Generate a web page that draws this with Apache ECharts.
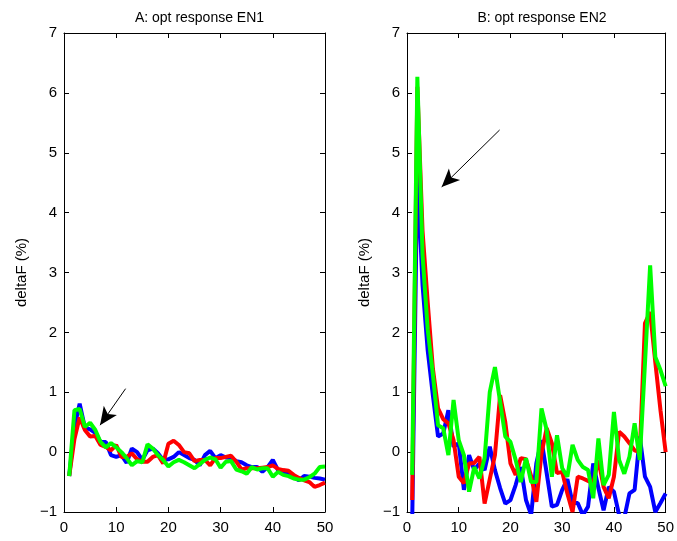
<!DOCTYPE html>
<html>
<head>
<meta charset="utf-8">
<script src="https://cdn.jsdelivr.net/npm/echarts@6/dist/echarts.min.js"></script>
<style>
  html, body { margin: 0; padding: 0; background: #fff; }
  #chart { width: 677px; height: 541px; }
</style>
</head>
<body>
<div id="chart"></div>
<script>
// sample index (x axis)
const steps = [1, 2, 3, 4, 5, 6, 7, 8, 9, 10, 11, 12, 13, 14, 15, 16, 17, 18, 19, 20,
  21, 22, 23, 24, 25, 26, 27, 28, 29, 30, 31, 32, 33, 34, 35, 36, 37, 38, 39, 40,
  41, 42, 43, 44, 45, 46, 47, 48, 49, 50];

// A: opt response EN1
const blueA = [-0.40, 0.42, 0.81, 0.41, 0.38, 0.32, 0.17, 0.17, -0.05, -0.08,
  -0.05, -0.18, 0.06, 0.00, -0.13, 0.03, 0.06, -0.02, -0.13, -0.12,
  -0.08, 0.00, -0.05, -0.10, -0.13, -0.22, -0.05, 0.02, -0.10, -0.05,
  -0.09, -0.10, -0.15, -0.17, -0.22, -0.25, -0.25, -0.33, -0.25, -0.13,
  -0.30, -0.36, -0.35, -0.42, -0.47, -0.40, -0.41, -0.43, -0.44, -0.46];
const redA = [-0.40, 0.22, 0.58, 0.37, 0.26, 0.27, 0.12, 0.09, 0.03, 0.12,
  -0.08, -0.08, -0.02, -0.12, -0.16, -0.16, -0.08, -0.05, -0.19, 0.14,
  0.19, 0.12, 0.00, -0.02, -0.15, -0.13, -0.13, -0.22, -0.10, -0.10,
  -0.08, -0.06, -0.16, -0.29, -0.27, -0.27, -0.27, -0.26, -0.25, -0.22,
  -0.28, -0.30, -0.31, -0.38, -0.43, -0.47, -0.50, -0.58, -0.55, -0.51];
const greenA = [-0.40, 0.70, 0.72, 0.42, 0.49, 0.37, 0.17, 0.08, 0.15, 0.08,
  0.00, -0.10, -0.22, -0.15, -0.17, 0.13, 0.06, -0.05, -0.13, -0.24,
  -0.17, -0.13, -0.17, -0.22, -0.27, -0.20, -0.13, -0.09, -0.12, -0.26,
  -0.16, -0.15, -0.29, -0.32, -0.36, -0.25, -0.29, -0.27, -0.27, -0.41,
  -0.33, -0.38, -0.40, -0.44, -0.46, -0.46, -0.42, -0.36, -0.25, -0.24];

// B: opt response EN2
const blueB = [-1.20, 4.70, 2.80, 1.70, 0.95, 0.26, 0.31, 0.70, 0.09, 0.15,
  -0.63, -0.05, -0.30, -0.19, -0.30, 0.09, -0.30, -0.60, -0.86, -0.80,
  -0.55, -0.25, -0.80, -1.05, -0.19, 0.20, -0.35, -0.91, -0.88, -0.63,
  -0.45, -0.85, -0.85, -1.05, -0.91, -0.19, -0.60, -0.97, -0.58, -0.66,
  -1.05, -1.10, -0.69, -0.63, 0.26, -0.41, -0.58, -1.00, -0.85, -0.69];
const redB = [-0.80, 6.10, 3.70, 2.50, 1.40, 0.73, 0.55, 0.48, 0.20, -0.41,
  -0.52, -0.19, -0.18, -0.08, -0.86, -0.45, -0.05, 0.95, 0.50, -0.19,
  -0.38, -0.10, -0.12, -0.40, -0.83, -0.02, 0.40, 0.15, -0.35, -0.33,
  -0.69, -1.00, -0.41, -0.44, -0.48, -0.52, -0.13, -0.58, -0.77, -0.41,
  0.34, 0.26, 0.15, 0.03, 0.00, 2.15, 2.34, 1.50, 0.70, 0.00];
const greenB = [-0.38, 6.27, 3.30, 2.05, 1.30, 0.45, 0.40, -0.05, 0.87, 0.20,
  -0.05, -0.66, -0.25, -0.44, -0.10, 1.00, 1.42, 0.84, 0.26, 0.17,
  -0.13, -0.50, -0.10, -0.50, -0.50, 0.73, 0.37, -0.41, 0.28, -0.27,
  -0.41, 0.12, -0.13, -0.25, -0.30, -0.77, 0.23, -0.55, -0.38, 0.67,
  -0.13, -0.36, -0.08, 0.48, -0.13, 1.48, 3.12, 1.59, 1.37, 1.10];

// arrows: [from, to] in data coords
const arrowA = [[11.8, 1.06], [6.9, 0.45]];
const arrowB = [[17.9, 5.38], [6.7, 4.43]];

const titles = ['A: opt response EN1', 'B: opt response EN2'];
const yTicks = { min: -1, max: 7, interval: 1 };
const xTicks = { min: 0, max: 50, interval: 10 };

const font = '"Liberation Sans", Arial, Helvetica, sans-serif';
const black = '#000';

function pairs(ys) {
  return steps.map((x, i) => [x, ys[i]]);
}

function minus(v) {
  return String(v).replace('-', '\u2212');
}

const grids = [
  { left: 64, top: 33, width: 261, height: 479 },
  { left: 407, top: 33, width: 260, height: 479 }
];

function xAxis(g, pos, labels) {
  return {
    type: 'value', gridIndex: g, position: pos,
    min: xTicks.min, max: xTicks.max, interval: xTicks.interval,
    axisLine: { show: true, onZero: false, lineStyle: { color: black, width: 1 } },
    axisTick: { show: true, inside: true, length: 5, lineStyle: { color: black } },
    axisLabel: { show: labels, color: black, fontFamily: font, fontSize: 15, margin: 8 },
    splitLine: { show: false }
  };
}

function yAxis(g, pos, labels) {
  return {
    type: 'value', gridIndex: g, position: pos,
    min: yTicks.min, max: yTicks.max, interval: yTicks.interval,
    name: labels ? 'deltaF (%)' : '',
    nameLocation: 'middle', nameGap: 35, nameRotate: 90,
    nameTextStyle: { color: black, fontFamily: font, fontSize: 15 },
    axisLine: { show: true, onZero: false, lineStyle: { color: black, width: 1 } },
    axisTick: { show: true, inside: true, length: 5, lineStyle: { color: black } },
    axisLabel: { show: labels, color: black, fontFamily: font, fontSize: 15, margin: 7, formatter: minus },
    splitLine: { show: false }
  };
}

function line(g, ys, color, width) {
  return {
    type: 'line', xAxisIndex: g * 2, yAxisIndex: g * 2,
    data: pairs(ys), showSymbol: false, symbol: 'none',
    lineStyle: { color: color, width: width }, clip: true,
    silent: true, z: 2
  };
}

function arrow(g, a) {
  return {
    type: 'line', xAxisIndex: g * 2, yAxisIndex: g * 2, data: [],
    silent: true, z: 5,
    markLine: {
      silent: true, animation: false,
      symbol: ['none', 'arrow'], symbolSize: [12, 18],
      label: { show: false },
      lineStyle: { color: black, width: 1, type: 'solid' },
      data: [[{ coord: a[0] }, { coord: a[1] }]]
    }
  };
}

const chart = echarts.init(document.getElementById('chart'), null, { renderer: 'canvas' });
chart.setOption({
  animation: false,
  backgroundColor: '#fff',
  title: titles.map((t, i) => ({
    text: t,
    left: grids[i].left + grids[i].width / 2,
    top: 6,
    textAlign: 'center',
    textStyle: { color: black, fontFamily: font, fontSize: 14, fontWeight: 'normal' }
  })),
  grid: grids,
  xAxis: [xAxis(0, 'bottom', true), xAxis(0, 'top', false), xAxis(1, 'bottom', true), xAxis(1, 'top', false)],
  yAxis: [yAxis(0, 'left', true), yAxis(0, 'right', false), yAxis(1, 'left', true), yAxis(1, 'right', false)],
  series: [
    line(0, blueA, '#0000ff', 4),
    line(0, redA, '#ff0000', 4),
    line(0, greenA, '#00ff00', 4),
    arrow(0, arrowA),
    line(1, blueB, '#0000ff', 4),
    line(1, redB, '#ff0000', 4),
    line(1, greenB, '#00ff00', 4),
    arrow(1, arrowB)
  ]
});
</script>
</body>
</html>
